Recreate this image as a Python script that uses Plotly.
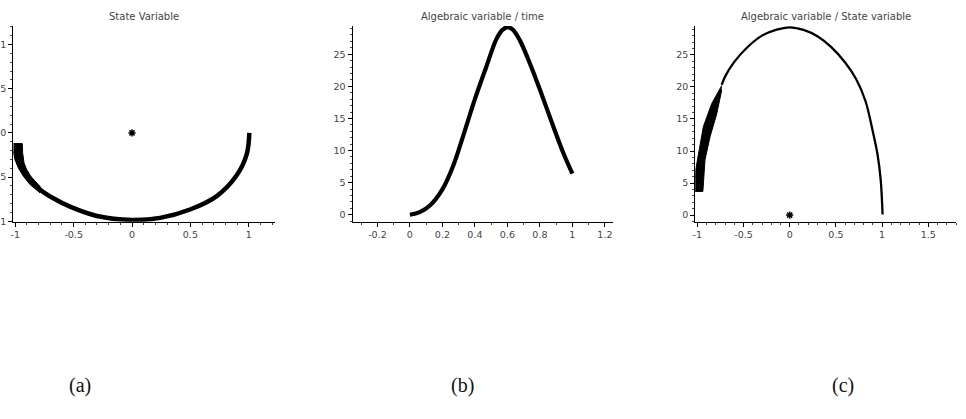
import plotly.graph_objects as go

# ---------------- data ----------------
# (a) State variable: y vs x of the trajectory
state_x = [-0.98, -0.97, -0.945, -0.90, -0.85, -0.789, -0.674, -0.531, -0.30, 0.0, 0.24, 0.497, 0.726, 0.897, 0.983, 1.005]
state_y = [-0.12, -0.25, -0.37, -0.47, -0.55, -0.64, -0.74, -0.835, -0.94, -0.985, -0.962, -0.867, -0.715, -0.48, -0.24, 0.0]
# thick (smeared) part of the trajectory near x = -1
state_band_x = [-1.017, -0.94, -0.937, -0.925, -0.903, -0.86, -0.789, -0.789, -0.874, -0.931, -0.974, -1.003, -1.017]
state_band_y = [-0.121, -0.121, -0.226, -0.339, -0.415, -0.508, -0.603, -0.678, -0.584, -0.49, -0.396, -0.302, -0.208]
# equilibrium point
eq_x = [0.0]
eq_y = [0.0]

# (b) Algebraic variable vs time
time_t = [0.0, 0.061, 0.123, 0.201, 0.266, 0.328, 0.40, 0.471, 0.533, 0.57, 0.60, 0.63, 0.676, 0.738, 0.80, 0.882, 0.943, 1.0]
alg_t = [0.0, 0.41, 1.44, 4.0, 7.6, 12.3, 18.0, 23.1, 27.4, 28.8, 29.2, 28.9, 27.2, 23.6, 19.5, 13.8, 9.7, 6.4]

# (c) Algebraic variable vs state variable
phase_x = [-0.736, -0.70, -0.60, -0.45, -0.30, -0.15, 0.0, 0.15, 0.30, 0.45, 0.60, 0.72, 0.82, 0.90, 0.95, 0.985, 1.005]
phase_y = [20.3, 21.6, 23.9, 26.3, 28.0, 28.9, 29.3, 28.9, 27.9, 26.2, 23.8, 21.2, 17.8, 13.0, 9.5, 5.5, 0.1]
phase_band_x = [-0.736, -0.844, -0.935, -0.989, -1.017, -1.025, -0.94, -0.917, -0.863, -0.79, -0.736]
phase_band_y = [20.2, 17.4, 13.8, 9.7, 7.1, 3.7, 3.7, 8.6, 12.2, 15.8, 19.5]

# tick labels
a_xticks = [-1, -0.5, 0, 0.5, 1]
a_yticks = [-1, -0.5, 0, 0.5, 1]
b_xticks = [-0.2, 0, 0.2, 0.4, 0.6, 0.8, 1, 1.2]
b_yticks = [0, 5, 10, 15, 20, 25]
c_xticks = [-1, -0.5, 0, 0.5, 1, 1.5]
c_yticks = [0, 5, 10, 15, 20, 25]

titles = ["State Variable", "Algebraic variable / time", "Algebraic variable / State variable"]
captions = ["(a)", "(b)", "(c)"]

# ---------------- figure ----------------
W, H = 966, 419
fig = go.Figure()

INK = "black"
TXT = "#444444"

def px_x(p):
    return p / W

def px_y(p):
    return 1 - p / H

def lab(v):
    return ("%g" % v).replace("\u2212", "-")

star = dict(symbol="asterisk-open", size=6, color=INK, line=dict(color=INK, width=1.5))

# (a)
fig.add_trace(go.Scatter(x=state_x, y=state_y, mode="lines", line=dict(color=INK, width=4.5, shape="spline"),
                         xaxis="x", yaxis="y", showlegend=False))
fig.add_trace(go.Scatter(x=state_band_x, y=state_band_y, mode="lines", fill="toself", fillcolor=INK,
                         line=dict(color=INK, width=1), xaxis="x", yaxis="y", showlegend=False))
fig.add_trace(go.Scatter(x=eq_x, y=eq_y, mode="markers", marker=star,
                         xaxis="x", yaxis="y", showlegend=False))
# (b)
fig.add_trace(go.Scatter(x=time_t, y=alg_t, mode="lines", line=dict(color=INK, width=4.2, shape="spline"),
                         xaxis="x2", yaxis="y2", showlegend=False))
# (c)
fig.add_trace(go.Scatter(x=phase_x, y=phase_y, mode="lines", line=dict(color=INK, width=2.3, shape="spline"),
                         xaxis="x3", yaxis="y3", showlegend=False))
fig.add_trace(go.Scatter(x=phase_band_x, y=phase_band_y, mode="lines", fill="toself", fillcolor=INK,
                         line=dict(color=INK, width=1), xaxis="x3", yaxis="y3", showlegend=False))
fig.add_trace(go.Scatter(x=eq_x, y=eq_y, mode="markers", marker=star,
                         xaxis="x3", yaxis="y3", showlegend=False))

tickfont = dict(family="DejaVu Sans", size=9.5, color=TXT)

def axis(dom, rng, ticks, minor, anchor):
    return dict(domain=dom, range=rng, anchor=anchor, showgrid=False, zeroline=False, automargin=False,
                showline=True, linecolor=INK, linewidth=1.3, mirror=False,
                ticks="outside", ticklen=4, tickwidth=1.2, tickcolor=INK,
                tickmode="array", tickvals=ticks, ticktext=[lab(v) for v in ticks], tickfont=tickfont,
                minor=dict(ticks="outside", ticklen=2, tickwidth=1, tickcolor="#444",
                           tickmode="linear", tick0=0, dtick=minor, showgrid=False))

ydom = [px_y(221.7), px_y(26)]
panels = [
    ([px_x(13.3), px_x(275)], [-1.017, 1.225], a_xticks, 0.1, [-1.005, 1.21], a_yticks, 0.1),
    ([px_x(352.7), px_x(613)], [-0.352, 1.25], b_xticks, 0.1, [-1.08, 29.4], b_yticks, 1),
    ([px_x(695.3), px_x(956)], [-1.022, 1.80], c_xticks, 0.1, [-1.03, 29.5], c_yticks, 1),
]

layout = dict(template="none", width=W, height=H, margin=dict(l=0, r=0, t=0, b=0),
              paper_bgcolor="white", plot_bgcolor="white", showlegend=False)
annotations = []
cap_x = [80, 462, 843]
for i, (xd, xr, xt, xmn, yr, yt, ymn) in enumerate(panels):
    sfx = "" if i == 0 else str(i + 1)
    layout["xaxis" + sfx] = axis(xd, xr, xt, xmn, "y" + sfx)
    layout["yaxis" + sfx] = axis(ydom, yr, yt, ymn, "x" + sfx)
    annotations.append(dict(text=titles[i], xref="paper", yref="paper", x=(xd[0] + xd[1]) / 2, y=px_y(16),
                            xanchor="center", yanchor="middle", showarrow=False,
                            font=dict(family="DejaVu Sans", size=10, color=TXT)))
    annotations.append(dict(text=captions[i], xref="paper", yref="paper", x=px_x(cap_x[i]), y=px_y(385),
                            xanchor="center", yanchor="middle", showarrow=False,
                            font=dict(family="Liberation Serif", size=20, color="#111")))
layout["annotations"] = annotations
fig.update_layout(**layout)

fig.write_html("out.html")
